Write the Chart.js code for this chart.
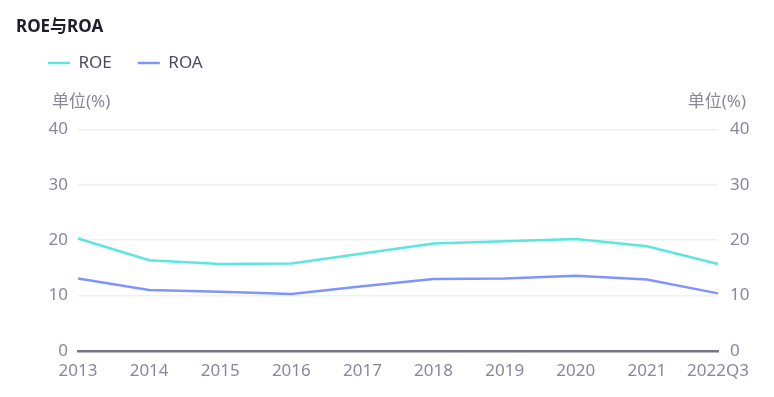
<!DOCTYPE html>
<html>
<head>
<meta charset="utf-8">
<script src="https://cdn.jsdelivr.net/npm/chart.js@4"></script>
<style>
  html, body { margin: 0; padding: 0; background: #fff; }
  #wrap { width: 774px; height: 397px; }
</style>
</head>
<body>
<div id="wrap"><canvas id="chart" width="774" height="397"></canvas></div>
<script>
const years = ["2013", "2014", "2015", "2016", "2017", "2018", "2019", "2020", "2021", "2022Q3"];
const roe = [20.3, 16.4, 15.7, 15.8, 17.6, 19.4, 19.8, 20.2, 18.9, 15.7];
const roa = [13.1, 11.0, 10.7, 10.3, 11.7, 13.0, 13.1, 13.6, 12.9, 10.4];
const unitLabel = "单位(%)";

const FONT = "'Noto Sans', 'Noto Sans CJK SC', sans-serif";
const tickColor = "#8a8799";

// shifts title/legend into place and draws the unit captions
const unitPlugin = {
  id: "units",
  afterLayout(chart) {
    const t = chart.titleBlock;
    t.top -= 25;
    t.bottom -= 25;
    const lg = chart.legend;
    lg.top -= 48;
    lg.bottom -= 48;
    lg.left += 6;
    lg.right += 6;
  },
  afterDraw(chart) {
    const ctx = chart.ctx;
    const area = chart.chartArea;
    ctx.save();
    ctx.font = "17px " + FONT;
    ctx.fillStyle = tickColor;
    ctx.textBaseline = "middle";
    ctx.textAlign = "left";
    ctx.fillText(unitLabel, 52, area.top - 27);
    ctx.textAlign = "right";
    ctx.fillText(unitLabel, 746, area.top - 27);
    ctx.restore();
  },
};

const ctx = document.getElementById("chart").getContext("2d");
new Chart(ctx, {
  type: "line",
  data: {
    labels: years,
    datasets: [
      {
        label: "ROE",
        data: roe,
        borderColor: "#5ce6e0",
        backgroundColor: "#5ce6e0",
        borderWidth: 2.5,
        pointRadius: 0,
        tension: 0,
        yAxisID: "y",
      },
      {
        label: "ROA",
        data: roa,
        borderColor: "#8094ff",
        backgroundColor: "#8094ff",
        borderWidth: 2.5,
        pointRadius: 0,
        tension: 0,
        yAxisID: "y1",
      },
    ],
  },
  options: {
    responsive: false,
    animation: false,
    layout: {
      padding: { left: 16, right: 0, top: 38, bottom: 6 },
    },
    scales: {
      x: {
        offset: false,
        grid: { display: false },
        border: { display: true, color: "#77738c", width: 2.5 },
        ticks: {
          color: tickColor,
          font: { family: FONT, size: 17 },
          padding: 2,
          maxRotation: 0,
          autoSkip: false,
        },
        afterFit(scale) {
          scale.height = 40;
        },
      },
      y: {
        position: "left",
        min: 0,
        max: 40,
        grid: {
          color: (c) => (c.tick && c.tick.value === 0 ? "rgba(0,0,0,0)" : "#eef0f7"),
          lineWidth: 1.5,
          drawTicks: false,
        },
        border: { display: false },
        ticks: {
          stepSize: 10,
          color: tickColor,
          font: { family: FONT, size: 17 },
          padding: 10,
        },
        afterFit(scale) {
          scale.width = 62;
        },
      },
      y1: {
        position: "right",
        min: 0,
        max: 40,
        grid: { display: false, drawTicks: false },
        border: { display: false },
        ticks: {
          stepSize: 10,
          color: tickColor,
          font: { family: FONT, size: 17 },
          padding: 12,
        },
        afterFit(scale) {
          scale.width = 56;
        },
      },
    },
    plugins: {
      title: {
        display: true,
        text: "ROE与ROA",
        align: "start",
        color: "#1f1d2b",
        font: { family: FONT, size: 17, weight: "bold" },
        padding: { top: 4, bottom: 14 },
      },
      legend: {
        display: true,
        align: "start",
        labels: {
          usePointStyle: true,
          pointStyle: "line",
          pointStyleWidth: 22,
          boxHeight: 3,
          padding: 26,
          color: "#4e4b63",
          font: { family: FONT, size: 17 },
        },
      },
      tooltip: { enabled: false },
    },
  },
  plugins: [unitPlugin],
});
</script>
</body>
</html>
